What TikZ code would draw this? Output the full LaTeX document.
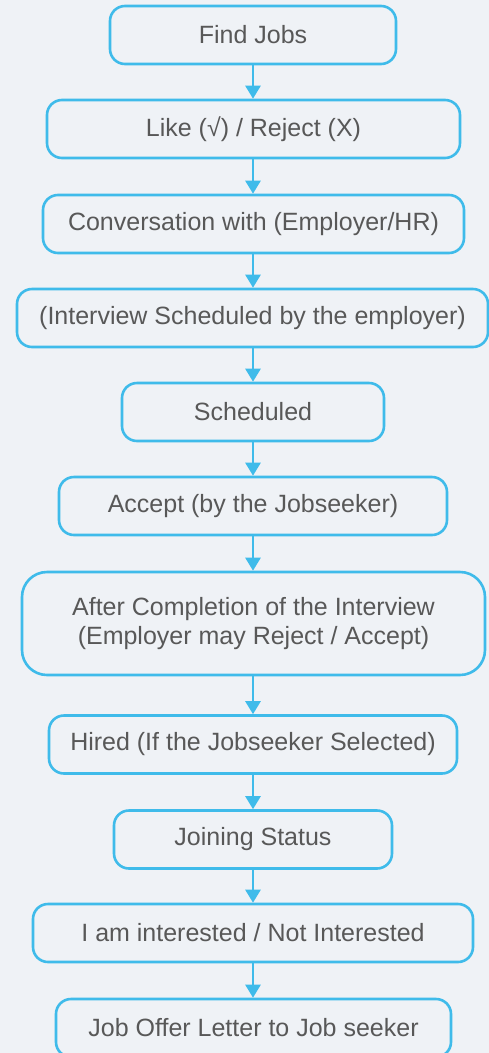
\documentclass[tikz,border=0pt]{standalone}
\usepackage{fontspec}
\setmainfont{Liberation Sans}
\usetikzlibrary{arrows.meta}

\definecolor{flowblue}{HTML}{3FBBEA}
\definecolor{flowtext}{HTML}{585858}
\definecolor{flowbg}{HTML}{EFF2F6}

\tikzset{
  stepbox/.style={draw=flowblue, line width=2.6pt, rounded corners=15pt,
    text=flowtext, font=\fontsize{25}{29}\selectfont, align=center,
    minimum height=58pt, inner sep=0pt},
  flow/.style={draw=flowblue, line width=2.6pt,
    -{Triangle[width=15pt,length=13pt]}}
}

\begin{document}
\begin{tikzpicture}[x=1pt, y=-1pt]
  % Background
  \fill[flowbg] (0,0) rectangle (489,1053);
  \useasboundingbox (0,0) rectangle (489,1053);

  % Steps of the job flow
  \node[stepbox, minimum width=286pt] (find) at (253,35) {Find Jobs};
  \node[stepbox, minimum width=413pt] (like) at (253.5,129) {Like (√) / Reject (X)};
  \node[stepbox, minimum width=421pt] (conv) at (253.5,224) {Conversation with (Employer/HR)};
  \node[stepbox, minimum width=471pt] (interview) at (252.5,318) {(Interview Scheduled by the employer)};
  \node[stepbox, minimum width=262pt] (sched) at (253,412) {Scheduled};
  \node[stepbox, minimum width=388pt] (accept) at (253,506) {Accept (by the Jobseeker)};
  \node[stepbox, minimum width=463pt, minimum height=103pt, rounded corners=25pt]
    (complete) at (253.5,623.5) {After Completion of the Interview\\(Employer may Reject / Accept)};
  \node[stepbox, minimum width=408pt] (hired) at (253,744.5) {Hired (If the Jobseeker Selected)};
  \node[stepbox, minimum width=278pt] (joining) at (253,839.5) {Joining Status};
  \node[stepbox, minimum width=440pt] (interest) at (253,933) {I am interested / Not Interested};
  \node[stepbox, minimum width=395pt] (offer) at (253.5,1028) {Job Offer Letter to Job seeker};

  % Connectors
  \foreach \from/\to in {find/like, like/conv, conv/interview, interview/sched,
      sched/accept, accept/complete, complete/hired, hired/joining,
      joining/interest, interest/offer} {
    \draw[flow] (\from.south -| 253,0) -- (\to.north -| 253,0);
  }

\end{tikzpicture}
\end{document}
